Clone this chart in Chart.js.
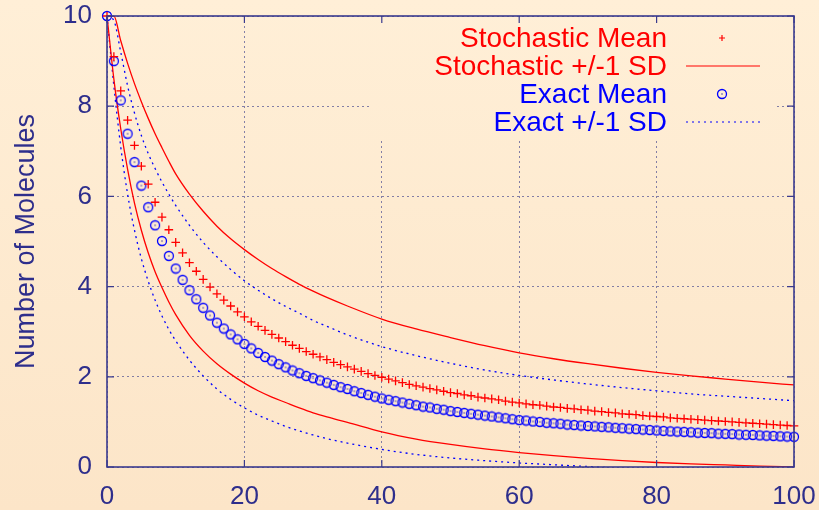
<!DOCTYPE html>
<html>
<head>
<meta charset="utf-8">
<script src="https://cdn.jsdelivr.net/npm/chart.js@4/dist/chart.umd.min.js"></script>
<style>
  html, body { margin: 0; padding: 0; }
  body {
    width: 819px; height: 510px; overflow: hidden;
    background: linear-gradient(to bottom, #ffefd7, #fce5c8);
  }
  canvas { display: block; }
</style>
</head>
<body>
<canvas id="decay" width="819" height="510"></canvas>
<script>
// sample times of the mean curves (one marker per time unit)
const times = Array.from({ length: 101 }, (_, i) => i);

const stochasticMean = [
  10, 9.10, 8.34, 7.69, 7.13, 6.67, 6.27, 5.87, 5.54, 5.26,
  4.98, 4.75, 4.53, 4.34, 4.16, 3.99, 3.84, 3.70, 3.57, 3.44,
  3.33, 3.22, 3.12, 3.03, 2.94, 2.86, 2.78, 2.70, 2.63, 2.56,
  2.50, 2.44, 2.38, 2.32, 2.27, 2.22, 2.17, 2.12, 2.07, 2.03,
  1.99, 1.95, 1.91, 1.87, 1.83, 1.80, 1.77, 1.74, 1.71, 1.68,
  1.65, 1.63, 1.60, 1.58, 1.55, 1.53, 1.51, 1.49, 1.46, 1.44,
  1.42, 1.40, 1.38, 1.37, 1.35, 1.33, 1.32, 1.30, 1.29, 1.27,
  1.26, 1.24, 1.23, 1.21, 1.20, 1.18, 1.17, 1.16, 1.14, 1.13,
  1.12, 1.11, 1.09, 1.08, 1.07, 1.06, 1.05, 1.04, 1.03, 1.02,
  1.01, 1.00, 0.99, 0.98, 0.97, 0.96, 0.95, 0.94, 0.93, 0.92,
  0.91
];

const exactMean = [
  10, 9.00, 8.13, 7.39, 6.76, 6.24, 5.76, 5.36, 5.01, 4.68,
  4.40, 4.15, 3.92, 3.72, 3.53, 3.36, 3.20, 3.07, 2.94, 2.83,
  2.73, 2.63, 2.53, 2.44, 2.36, 2.28, 2.21, 2.14, 2.08, 2.02,
  1.97, 1.92, 1.87, 1.82, 1.77, 1.73, 1.68, 1.64, 1.60, 1.56,
  1.52, 1.49, 1.46, 1.43, 1.40, 1.37, 1.34, 1.32, 1.29, 1.27,
  1.24, 1.22, 1.20, 1.18, 1.16, 1.14, 1.12, 1.10, 1.08, 1.06,
  1.04, 1.03, 1.01, 1.00, 0.98, 0.97, 0.96, 0.94, 0.93, 0.92,
  0.91, 0.90, 0.89, 0.88, 0.87, 0.86, 0.85, 0.84, 0.83, 0.82,
  0.81, 0.80, 0.79, 0.785, 0.78, 0.77, 0.76, 0.755, 0.75, 0.74,
  0.735, 0.73, 0.72, 0.715, 0.71, 0.70, 0.695, 0.69, 0.68, 0.675,
  0.67
];

// +/- 1 SD envelopes, sampled more coarsely
const sdTimes = [0, 1, 2, 3, 4, 5, 6, 7, 8, 9, 10, 12, 14, 16, 18, 20, 22, 24, 26, 28,
  30, 32, 35, 40, 45, 50, 55, 60, 65, 70, 75, 80, 85, 90, 95, 100];

const stochasticUpper = [10, 10, 9.45, 8.95, 8.5, 8.1, 7.73, 7.39, 7.08, 6.78, 6.5, 6.05, 5.67,
  5.34, 5.06, 4.82, 4.6, 4.4, 4.22, 4.05, 3.9, 3.76, 3.57, 3.28, 3.06, 2.87, 2.69, 2.53, 2.4,
  2.29, 2.19, 2.1, 2.02, 1.95, 1.88, 1.82];
const stochasticLower = [10, 8.6, 7.5, 6.6, 5.85, 5.25, 4.75, 4.33, 3.98, 3.66, 3.38, 2.92, 2.57,
  2.29, 2.06, 1.86, 1.69, 1.55, 1.43, 1.31, 1.2, 1.11, 0.99, 0.78, 0.62, 0.5, 0.4, 0.32, 0.25,
  0.19, 0.14, 0.1, 0.07, 0.045, 0.02, 0.0];
const exactUpper = [10, 9.9, 9.2, 8.45, 7.85, 7.35, 6.95, 6.62, 6.32, 6.05, 5.8, 5.36, 4.98,
  4.66, 4.38, 4.13, 3.92, 3.73, 3.56, 3.41, 3.25, 3.12, 2.93, 2.67, 2.47, 2.3, 2.15, 2.03,
  1.93, 1.84, 1.76, 1.69, 1.62, 1.57, 1.52, 1.47];
const exactLower = [10, 8.45, 7.1, 6.05, 5.25, 4.62, 4.12, 3.7, 3.35, 3.05, 2.8, 2.37, 2.02,
  1.73, 1.5, 1.31, 1.15, 1.02, 0.9, 0.8, 0.71, 0.63, 0.53, 0.39, 0.28, 0.2, 0.14, 0.09, 0.05,
  0.01, -0.03, -0.06, -0.09, -0.12, -0.15, -0.18];

const xTicks = [0, 20, 40, 60, 80, 100];
const yTicks = [0, 2, 4, 6, 8, 10];

const RED = '#ff0000';
const BLUE = '#0000ff';
const NAVY = '#2e2e8c';
const FRAME = '#3a3a8e';
const BG_TOP = '#ffefd7';
const BG_BOTTOM = '#fce5c8';
const FONT = "'Liberation Sans', Arial, sans-serif";

const xy = (xs, ys) => xs.map((x, i) => ({ x, y: ys[i] }));

// open circle with a dot in the middle, used as the exact-mean marker
const ringMarker = (() => {
  const c = document.createElement('canvas');
  c.width = 12; c.height = 12;
  const g = c.getContext('2d');
  g.strokeStyle = BLUE;
  g.lineWidth = 1.3;
  g.beginPath(); g.arc(6, 6, 4.5, 0, Math.PI * 2); g.stroke();
  g.fillStyle = '#4040b0';
  g.beginPath(); g.arc(6, 6, 0.8, 0, Math.PI * 2); g.fill();
  return c;
})();

const keyEntries = [
  { label: 'Stochastic Mean', color: RED, kind: 'cross' },
  { label: 'Stochastic +/-1 SD', color: RED, kind: 'solid' },
  { label: 'Exact Mean', color: BLUE, kind: 'ring' },
  { label: 'Exact +/-1 SD', color: BLUE, kind: 'dotted' },
];

// key in the top right corner; its box covers the grid behind it
const keyPlugin = {
  id: 'key',
  beforeDatasetsDraw(chart) {
    const { ctx, chartArea: a } = chart;
    ctx.save();
    const bg = ctx.createLinearGradient(0, 0, 0, chart.height);
    bg.addColorStop(0, BG_TOP);
    bg.addColorStop(1, BG_BOTTOM);
    ctx.fillStyle = bg;
    ctx.fillRect(a.right - 422, a.top + 1, 405, 123);

    ctx.font = `28px ${FONT}`;
    ctx.textAlign = 'right';
    ctx.textBaseline = 'middle';
    keyEntries.forEach((e, i) => {
      const y = a.top + 22 + i * 28;
      ctx.fillStyle = e.color;
      ctx.fillText(e.label, a.right - 127, y + 1);
      const cx = a.right - 72;
      ctx.strokeStyle = e.color;
      ctx.lineWidth = 1.2;
      if (e.kind === 'cross') {
        ctx.beginPath();
        ctx.moveTo(cx - 3, y); ctx.lineTo(cx + 3, y);
        ctx.moveTo(cx, y - 3); ctx.lineTo(cx, y + 3);
        ctx.stroke();
      } else if (e.kind === 'ring') {
        ctx.drawImage(ringMarker, cx - 6, y - 6);
      } else {
        ctx.setLineDash(e.kind === 'dotted' ? [2, 4] : []);
        ctx.beginPath();
        ctx.moveTo(a.right - 108, y); ctx.lineTo(a.right - 34, y);
        ctx.stroke();
        ctx.setLineDash([]);
      }
    });
    ctx.restore();
  },
  // plot border with inward ticks on all four sides
  afterDatasetsDraw(chart) {
    const { ctx, chartArea: a, scales } = chart;
    ctx.save();
    ctx.strokeStyle = FRAME;
    ctx.lineWidth = 1.6;
    ctx.strokeRect(a.left, a.top, a.right - a.left, a.bottom - a.top);
    ctx.lineWidth = 1.2;
    ctx.beginPath();
    xTicks.forEach(v => {
      const px = scales.x.getPixelForValue(v);
      ctx.moveTo(px, a.bottom); ctx.lineTo(px, a.bottom - 7);
      ctx.moveTo(px, a.top); ctx.lineTo(px, a.top + 7);
    });
    yTicks.forEach(v => {
      const py = scales.y.getPixelForValue(v);
      ctx.moveTo(a.left, py); ctx.lineTo(a.left + 7, py);
      ctx.moveTo(a.right, py); ctx.lineTo(a.right - 7, py);
    });
    ctx.stroke();
    ctx.restore();
  },
};

new Chart(document.getElementById('decay'), {
  type: 'line',
  data: {
    datasets: [
      {
        label: 'Stochastic Mean',
        data: xy(times, stochasticMean),
        showLine: false,
        pointStyle: 'cross',
        pointRadius: 4.3,
        pointBorderColor: RED,
        pointBorderWidth: 1.3,
        clip: false,
      },
      {
        label: 'Exact Mean',
        data: xy(times, exactMean),
        showLine: false,
        pointStyle: ringMarker,
        pointRadius: 4.5,
        clip: false,
      },
      {
        label: 'Stochastic +1 SD',
        data: xy(sdTimes, stochasticUpper),
        borderColor: RED,
        borderWidth: 1.3,
        pointRadius: 0,
        cubicInterpolationMode: 'monotone',
      },
      {
        label: 'Stochastic -1 SD',
        data: xy(sdTimes, stochasticLower),
        borderColor: RED,
        borderWidth: 1.3,
        pointRadius: 0,
        cubicInterpolationMode: 'monotone',
      },
      {
        label: 'Exact +1 SD',
        data: xy(sdTimes, exactUpper),
        borderColor: BLUE,
        borderWidth: 1.3,
        borderDash: [2, 4],
        pointRadius: 0,
        cubicInterpolationMode: 'monotone',
      },
      {
        label: 'Exact -1 SD',
        data: xy(sdTimes, exactLower),
        borderColor: BLUE,
        borderWidth: 1.3,
        borderDash: [2, 4],
        pointRadius: 0,
        cubicInterpolationMode: 'monotone',
      },
    ],
  },
  options: {
    responsive: false,
    animation: false,
    devicePixelRatio: 1,
    layout: { padding: { top: 16, right: 25, left: 0, bottom: 0 } },
    plugins: { legend: { display: false }, tooltip: { enabled: false } },
    scales: {
      x: {
        type: 'linear',
        min: 0,
        max: 100,
        // fixed axis band; the outer labels may overhang into the page margin
        afterFit: s => { s.height = 43; s.paddingLeft = 0; s.paddingRight = 0; },
        afterBuildTicks: s => { s.ticks = xTicks.map(value => ({ value })); },
        ticks: { color: NAVY, font: { family: FONT, size: 26 }, padding: 14, maxRotation: 0 },
        grid: { color: 'rgba(90,90,150,0.75)', lineWidth: 1, drawTicks: false },
        border: { display: false, dash: [2, 3] },
      },
      y: {
        min: 0,
        max: 10,
        afterFit: s => { s.width = 107; s.paddingTop = 0; s.paddingBottom = 0; },
        afterBuildTicks: s => { s.ticks = yTicks.map(value => ({ value })); },
        ticks: { color: NAVY, font: { family: FONT, size: 26 }, padding: 15 },
        grid: { color: 'rgba(90,90,150,0.75)', lineWidth: 1, drawTicks: false },
        border: { display: false, dash: [2, 3] },
        title: {
          display: true,
          text: 'Number of Molecules',
          color: NAVY,
          font: { family: FONT, size: 27 },
          padding: { top: 10, bottom: 0 },
        },
      },
    },
  },
  plugins: [keyPlugin],
});
</script>
</body>
</html>
